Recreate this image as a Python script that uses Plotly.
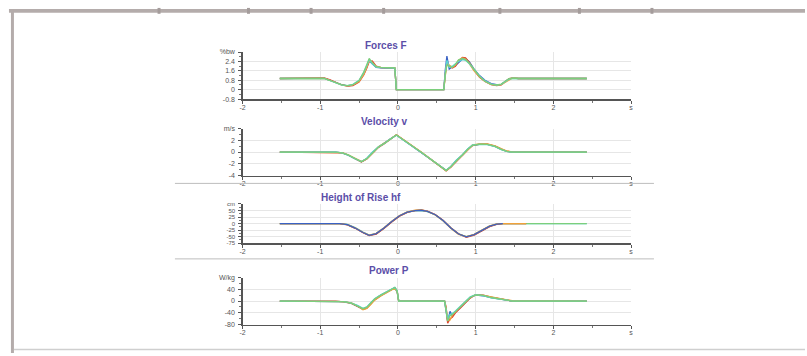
import plotly.graph_objects as go

W, H = 807, 356

# ---------------- data ----------------
trial_names = ["Trial 1", "Trial 2", "Trial 3", "Trial 4", "Trial 5"]

# Forces F (%bw)
t_force = [-1.52, -1.0, -0.95, -0.88, -0.8, -0.72, -0.65, -0.58, -0.5, -0.44,
           -0.4, -0.37, -0.33, -0.28, -0.22, -0.12, -0.04, -0.02, 0.0, 0.56,
           0.59, 0.61, 0.63, 0.66, 0.7, 0.74, 0.78, 0.83, 0.87, 0.92,
           0.98, 1.05, 1.12, 1.2, 1.27, 1.33, 1.38, 1.43, 1.48, 1.55, 2.43]
force_blue = [0.95, 0.95, 0.98, 0.82, 0.6, 0.42, 0.33, 0.38, 0.72, 1.35,
              1.95, 2.45, 2.2, 1.9, 1.85, 1.85, 1.82, 0.0, 0.0, 0.0,
              0.0, 1.7, 2.85, 1.75, 1.95, 2.05, 2.3, 2.6, 2.65, 2.35,
              1.75, 1.2, 0.8, 0.52, 0.42, 0.45, 0.7, 0.92, 0.98, 0.95, 0.95]
force_red = [0.95, 0.95, 1.0, 0.85, 0.62, 0.4, 0.3, 0.35, 0.65, 1.25,
             1.85, 2.4, 2.45, 2.0, 1.87, 1.87, 1.85, 0.0, 0.0, 0.0,
             0.0, 1.4, 2.2, 2.0, 1.85, 2.0, 2.45, 2.75, 2.7, 2.3,
             1.65, 1.05, 0.7, 0.42, 0.35, 0.4, 0.65, 0.95, 1.0, 0.95, 0.95]
force_orange = [0.95, 0.95, 0.97, 0.8, 0.58, 0.38, 0.32, 0.4, 0.7, 1.3,
                1.9, 2.5, 2.3, 1.95, 1.9, 1.88, 1.85, 0.0, 0.0, 0.0,
                0.0, 1.2, 2.3, 2.1, 1.9, 2.1, 2.5, 2.7, 2.6, 2.2,
                1.6, 1.1, 0.72, 0.45, 0.38, 0.42, 0.62, 0.88, 1.02, 0.95, 0.95]
force_cyan = [0.95, 0.95, 0.96, 0.78, 0.55, 0.38, 0.35, 0.45, 0.8, 1.45,
              2.05, 2.55, 2.2, 1.92, 1.88, 1.86, 1.84, 0.0, 0.0, 0.0,
              0.0, 1.5, 2.5, 1.9, 2.0, 2.2, 2.4, 2.55, 2.5, 2.2,
              1.7, 1.15, 0.75, 0.48, 0.4, 0.45, 0.68, 0.9, 0.97, 0.95, 0.95]
force_green = [0.95, 0.95, 0.96, 0.8, 0.57, 0.4, 0.34, 0.42, 0.78, 1.5,
               2.15, 2.65, 2.3, 1.95, 1.9, 1.88, 1.86, 0.0, 0.0, 0.0,
               0.0, 1.3, 2.1, 2.0, 1.9, 2.15, 2.55, 2.65, 2.55, 2.25,
               1.7, 1.12, 0.72, 0.45, 0.4, 0.48, 0.72, 0.93, 0.97, 0.95, 0.95]

# Velocity v (m/s)
t_vel = [-1.52, -0.8, -0.72, -0.64, -0.56, -0.47, -0.4, -0.33, -0.25, -0.17,
         -0.1, -0.02, 0.3, 0.62, 0.68, 0.75, 0.83, 0.9, 0.96, 1.05,
         1.15, 1.25, 1.33, 1.4, 1.47, 2.43]
vel_blue = [0, 0, -0.15, -0.55, -1.1, -1.65, -1.1, -0.1, 0.85, 1.5,
            2.2, 2.9, -0.05, -3.1, -2.5, -1.45, -0.5, 0.5, 1.15, 1.3,
            1.3, 0.95, 0.45, 0.12, 0.0, 0.0]
vel_red = [0, 0, -0.12, -0.5, -1.05, -1.7, -1.2, -0.2, 0.8, 1.45,
           2.15, 2.95, -0.05, -3.2, -2.6, -1.6, -0.6, 0.4, 1.1, 1.35,
           1.35, 1.0, 0.5, 0.15, 0.02, 0.0]
vel_orange = [0, 0, -0.1, -0.48, -1.0, -1.6, -1.15, -0.15, 0.9, 1.55,
              2.25, 2.95, 0.0, -3.15, -2.55, -1.5, -0.55, 0.45, 1.2, 1.4,
              1.4, 1.05, 0.55, 0.18, 0.03, 0.0]
vel_cyan = [0, 0, -0.14, -0.52, -1.08, -1.62, -1.05, -0.05, 0.88, 1.5,
            2.2, 2.85, -0.08, -3.1, -2.45, -1.4, -0.45, 0.55, 1.2, 1.3,
            1.25, 0.9, 0.4, 0.1, 0.0, 0.0]
vel_green = [0, 0, -0.13, -0.5, -1.05, -1.65, -1.12, -0.12, 0.86, 1.52,
             2.2, 2.9, -0.05, -3.15, -2.5, -1.5, -0.52, 0.48, 1.15, 1.32,
             1.3, 0.95, 0.45, 0.12, 0.0, 0.0]

# Height of Rise hf (cm)
t_height = [-1.52, -0.75, -0.65, -0.55, -0.45, -0.37, -0.28, -0.18, -0.08, 0.02,
            0.12, 0.22, 0.3, 0.38, 0.48, 0.58, 0.68, 0.78, 0.88, 0.98,
            1.08, 1.18, 1.27, 1.35, 1.65, 2.43]
height_blue = [0, 0, -4, -17, -34, -45, -38, -17, 8, 30,
               44, 50, 51, 47, 34, 12, -17, -40, -51, -42,
               -26, -10, -2, 0, None, None]
height_red = [0, 0, -5, -18, -35, -46, -40, -19, 6, 28,
              43, 50, 52, 48, 35, 13, -16, -39, -52, -44,
              -28, -12, -3, 0, 0, None]
height_orange = [0, 0, -4, -16, -33, -44, -37, -16, 9, 31,
                 45, 51, 52, 47, 33, 11, -18, -41, -50, -41,
                 -25, -9, -1, 0, 0, None]
height_cyan = [0, 0, -3, -15, -32, -44, -38, -18, 7, 29,
               44, 50, 50, 46, 34, 12, -16, -39, -50, -43,
               -27, -11, -2, 0, 0, 0]
height_green = [0, 0, -4, -17, -34, -45, -39, -18, 7, 29,
                44, 50, 51, 47, 34, 12, -17, -40, -51, -42,
                -26, -10, -2, 0, 0, 0]

# Power P (W/kg)
t_power = [-1.52, -0.8, -0.7, -0.6, -0.52, -0.45, -0.4, -0.35, -0.3, -0.22,
           -0.15, -0.08, -0.04, -0.01, 0.01, 0.6, 0.62, 0.64, 0.67, 0.7,
           0.74, 0.8, 0.86, 0.93, 1.0, 1.1, 1.2, 1.3, 1.4, 1.47, 2.43]
power_blue = [0, 0, -2, -7, -17, -27, -22, -8, 6, 20,
              30, 40, 45, 30, 0, 0, -30, -70, -35, -50,
              -38, -22, -5, 12, 20, 18, 12, 7, 3, 0, 0]
power_red = [0, 0, -3, -8, -18, -28, -24, -10, 4, 18,
             28, 38, 46, 35, 0, 0, -20, -75, -60, -55,
             -40, -25, -8, 10, 22, 20, 13, 8, 4, 0, 0]
power_orange = [0, 0, -2, -6, -16, -30, -25, -12, 3, 17,
                27, 37, 44, 32, 0, 0, -25, -65, -65, -48,
                -36, -20, -4, 13, 21, 19, 14, 9, 5, 1, 0]
power_cyan = [0, 0, -2, -7, -15, -25, -20, -6, 8, 21,
              31, 41, 47, 36, 0, 0, -35, -60, -45, -42,
              -34, -18, -3, 14, 22, 18, 11, 6, 2, 0, 0]
power_green = [0, 0, -2, -7, -17, -26, -21, -7, 7, 20,
               30, 40, 46, 33, 0, 0, -28, -68, -50, -46,
               -36, -21, -5, 12, 21, 19, 12, 7, 3, 0, 0]

x_tickvals = [-2, -1, 0, 1, 2, 3]
x_ticktext = ["-2", "-1", "0", "1", "2", "s"]

panel_titles = ["Forces F", "Velocity v", "Height of Rise hf", "Power P"]
panel_units = ["%bw", "m/s", "cm", "W/kg"]
y_tickvals = [[-0.8, 0, 0.8, 1.6, 2.4, 3.2],
              [-4, -2, 0, 2, 4],
              [-75, -50, -25, 0, 25, 50, 75],
              [-80, -40, 0, 40, 80]]
y_ticklabels = [["-0.8", "0", "0.8", "1.6", "2.4"],
                ["-4", "-2", "0", "2"],
                ["-75", "-50", "-25", "0", "25", "50"],
                ["-80", "-40", "0", "40"]]

# ---------------- style ----------------
COL = {"blue": "#3a62c4", "red": "#e0452e", "orange": "#f0a23a",
       "cyan": "#5ad4d2", "green": "#7ccf7c"}
FONT = "Liberation Sans, Arial, sans-serif"
TITLE_COL = "#5b4ea8"

def py(p):  # pixel row -> paper fraction
    return 1 - p / H

def px(p):
    return p / W

X0, X1 = 241, 632
panels_px = [(49, 97), (127, 175), (204, 244), (279, 327)]
y_ranges = [[-0.8, 3.2], [-4, 4], [-75, 75], [-80, 80]]
y_minor = [0.4, 1, 12.5, 20]
y_fontsize = [7, 7, 6, 7]

fig = go.Figure()

panel_series = [
    (t_force, [("blue", force_blue), ("red", force_red), ("orange", force_orange),
               ("cyan", force_cyan), ("green", force_green)]),
    (t_vel, [("blue", vel_blue), ("red", vel_red), ("orange", vel_orange),
             ("cyan", vel_cyan), ("green", vel_green)]),
    (t_height, [("cyan", height_cyan), ("green", height_green), ("red", height_red),
                ("orange", height_orange), ("blue", height_blue)]),
    (t_power, [("blue", power_blue), ("red", power_red), ("orange", power_orange),
               ("cyan", power_cyan), ("green", power_green)]),
]

for i, (tx, series) in enumerate(panel_series):
    sfx = "" if i == 0 else str(i + 1)
    for cname, vals in series:
        fig.add_trace(go.Scatter(x=tx, y=vals, mode="lines",
                                 line=dict(color=COL[cname], width=1.3),
                                 xaxis="x" + sfx, yaxis="y" + sfx,
                                 showlegend=False, hoverinfo="skip",
                                 connectgaps=False))

layout = dict(width=W, height=H, margin=dict(l=0, r=0, t=0, b=0),
              paper_bgcolor="white", plot_bgcolor="white",
              font=dict(family=FONT, size=8, color="#444"),
              showlegend=False)

annotations = []
shapes = []
for i in range(4):
    sfx = "" if i == 0 else str(i + 1)
    top, bot = panels_px[i]
    layout["xaxis" + sfx] = dict(
        domain=[px(X0), px(X1)], anchor="y" + sfx, range=[-2, 3],
        tickvals=x_tickvals, ticktext=x_ticktext,
        showline=True, linecolor="#555", linewidth=1.5,
        ticks="outside", ticklen=3, tickcolor="#555", tickwidth=1,
        ticklabelstandoff=-2,
        minor=dict(dtick=0.5, tick0=0, ticks="outside", ticklen=2, tickcolor="#777",
                   showgrid=False),
        showgrid=True, gridcolor="#e6e6e6", gridwidth=1, zeroline=False,
        tickfont=dict(size=7, color="#555"), fixedrange=True)
    tv = y_tickvals[i]
    tt = y_ticklabels[i] + [panel_units[i]]
    layout["yaxis" + sfx] = dict(
        domain=[py(bot), py(top)], anchor="x" + sfx, range=y_ranges[i],
        tickvals=tv, ticktext=tt,
        showline=True, linecolor="#555", linewidth=1.2,
        ticks="outside", ticklen=3, tickcolor="#555", tickwidth=1,
        ticklabelstandoff=2,
        minor=dict(dtick=y_minor[i], tick0=0, ticks="outside", ticklen=2,
                   tickcolor="#777", showgrid=False),
        showgrid=True, gridcolor="#e6e6e6", gridwidth=1, zeroline=False,
        tickfont=dict(size=y_fontsize[i], color="#555"), fixedrange=True)

title_cx = [385, 384, 360, 388]
for i in range(4):
    top, bot = panels_px[i]
    annotations.append(dict(text="<b>" + panel_titles[i] + "</b>",
                            x=px(title_cx[i]), y=py(top - 7), xref="paper", yref="paper",
                            xanchor="center", yanchor="middle", showarrow=False,
                            font=dict(family=FONT, size=10, color=TITLE_COL)))

FRAME = "#b4acab"
# top bar and left bar of the surrounding frame
shapes.append(dict(type="rect", xref="paper", yref="paper", x0=px(6), x1=1,
                   y0=py(9), y1=py(5), fillcolor=FRAME, line=dict(width=0)))
shapes.append(dict(type="rect", xref="paper", yref="paper", x0=px(8), x1=px(11),
                   y0=0, y1=py(5), fillcolor=FRAME, line=dict(width=0)))
for bx in [157, 247, 310, 383, 500, 580, 653]:
    shapes.append(dict(type="rect", xref="paper", yref="paper", x0=px(bx - 1.5),
                       x1=px(bx + 1.5), y0=py(10), y1=py(4), fillcolor="#a49c9b",
                       line=dict(width=0)))
shapes.append(dict(type="line", xref="paper", yref="paper", x0=px(11), x1=1,
                   y0=py(352.5), y1=py(352.5), line=dict(color="#cfcfcf", width=1.5)))
for sy in [183, 260]:
    shapes.append(dict(type="line", xref="paper", yref="paper", x0=px(173), x1=px(655),
                       y0=py(sy), y1=py(sy), line=dict(color="#bdbdbd", width=1)))

layout["annotations"] = annotations
layout["shapes"] = shapes
fig.update_layout(**layout)
fig.write_html("out.html",
               config={"displayModeBar": False, "staticPlot": True},
               post_script="document.body.style.margin='0';document.body.style.padding='0';"
                           "document.body.style.overflow='hidden';")
